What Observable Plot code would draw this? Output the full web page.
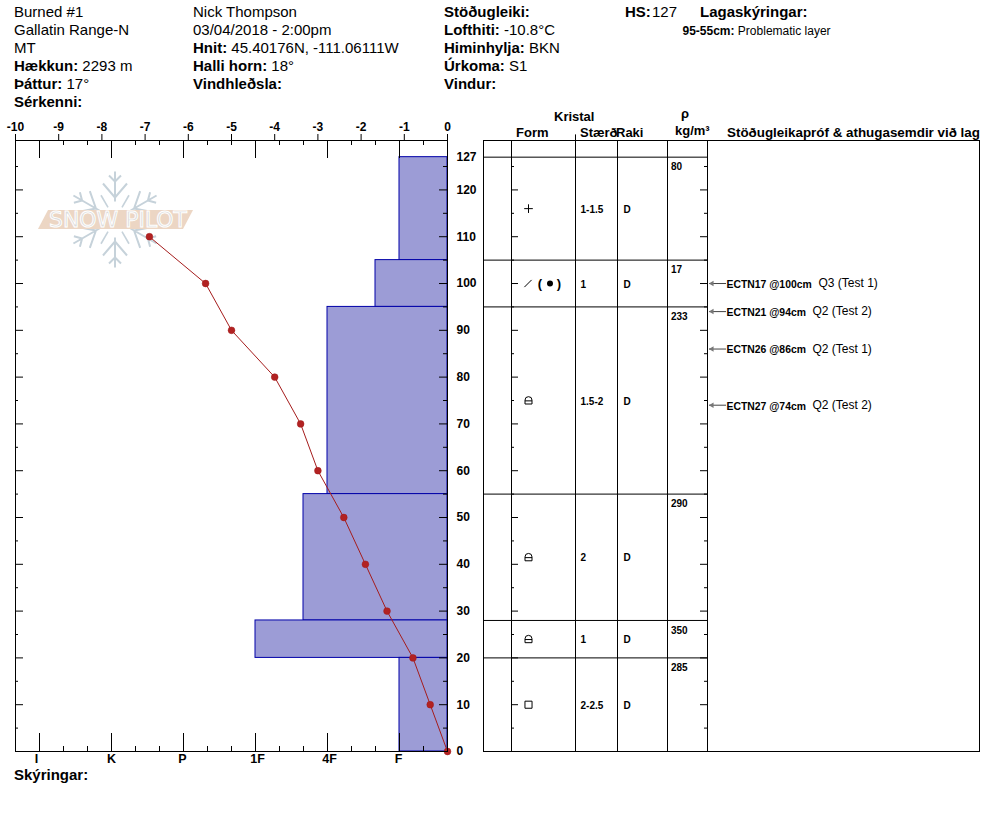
<!DOCTYPE html>
<html>
<head>
<meta charset="utf-8">
<script src="https://cdn.jsdelivr.net/npm/d3@7"></script>
<script src="https://cdn.jsdelivr.net/npm/@observablehq/plot@0.6"></script>
<style>
  html, body { margin: 0; padding: 0; background: #fff; }
  #page { position: relative; width: 994px; height: 840px; overflow: hidden; font-family: "Liberation Sans", Arial, sans-serif; color: #000; }
  #page > svg, #page > .layer { position: absolute; left: 0; top: 0; }
  .t { position: absolute; white-space: nowrap; line-height: 16px; font-size: 15px; }
  .t b { font-weight: bold; }
</style>
</head>
<body>
<div id="page"></div>
<script>
// ---------- chart data ----------
const layerTop    = [127, 105, 95, 55, 28, 20];
const layerBottom = [105, 95, 55, 28, 20, 0];
const layerHand   = ["F", "F+", "4F", "4F+", "1F", "F"];
const layerSize   = ["1-1.5", "1", "1.5-2", "2", "1", "2-2.5"];
const layerMoist  = ["D", "D", "D", "D", "D", "D"];
const layerRho    = [80, 17, 233, 290, 350, 285];

const tempDepth = [0, 10, 20, 30, 40, 50, 60, 70, 80, 90, 100, 110];
const tempValue = [0, -0.4, -0.8, -1.4, -1.9, -2.4, -3.0, -3.4, -4.0, -5.0, -5.6, -6.9];

const testDepth = [100, 94, 86, 74];
const testName  = ["ECTN17 @100cm", "ECTN21 @94cm", "ECTN26 @86cm", "ECTN27 @74cm"];
const testNote  = ["Q3 (Test 1)", "Q2 (Test 2)", "Q2 (Test 1)", "Q2 (Test 2)"];

const handNames = ["F", "4F", "1F", "P", "K", "I"];
const handRank  = {"F": 1, "F+": 4 / 3, "4F": 2, "4F+": 7 / 3, "1F": 3, "P": 4, "K": 5, "I": 6};
const tempTicks = [-10, -9, -8, -7, -6, -5, -4, -3, -2, -1, 0];
const depthLabels = [0, 10, 20, 30, 40, 50, 60, 70, 80, 90, 100, 110, 120, 127];
const depthTop = 130.56;

// header texts: [left, centre y, bold label, value]
const headerTexts = [
  [14, 12, "", "Burned #1"], [14, 30, "", "Gallatin Range-N"], [14, 48, "", "MT"],
  [14, 66, "Hækkun:", "2293 m"], [14, 84, "Þáttur:", "17°"], [14, 102, "Sérkenni:", ""],
  [193, 12, "", "Nick Thompson"], [193, 30, "", "03/04/2018 - 2:00pm"],
  [193, 48, "Hnit:", "45.40176N, -111.06111W"], [193, 66, "Halli horn:", "18°"], [193, 84, "Vindhleðsla:", ""],
  [444, 12, "Stöðugleiki:", ""], [444, 30, "Lofthiti:", "-10.8°C"], [444, 48, "Himinhylja:", "BKN"],
  [444, 66, "Úrkoma:", "S1"], [444, 84, "Vindur:", ""],
  [625, 12, "HS:", ""], [652, 12, "", "127"], [700, 12, "Lagaskýringar:", ""],
  [14, 775, "Skýringar:", ""]
];
// table column heads: [left, centre y, text, font size]
const columnHeads = [
  [554, 117, "Kristal", 13], [516, 133, "Form", 13], [580, 133, "Stærð", 13], [616, 133, "Raki", 13],
  [681, 114, "ρ", 13], [675, 131, "kg/m³", 13], [727, 133, "Stöðugleikapróf & athugasemdir við lag", 13.4]
];

// ---------- layout ----------
const page = document.getElementById("page");
const W = 480, H = 840, mT = 140, mB = 89, mL = 15, mR = 33;
const plotH = H - mT - mB;
const font = '"Liberation Sans", Arial, sans-serif';
const base = {
  width: W, height: H, marginTop: mT, marginBottom: mB, marginLeft: mL, marginRight: mR,
  style: {fontFamily: font, background: "transparent"}
};
const yScale = {domain: [0, depthTop], axis: null};

function addText(left, cy, html, size) {
  const s = document.createElement("div");
  s.className = "t";
  s.style.left = left + "px";
  s.style.top = (cy - 8) + "px";
  if (size) s.style.fontSize = size + "px";
  s.innerHTML = html;
  page.appendChild(s);
}
headerTexts.forEach(([x, y, b, v]) => addText(x, y, (b ? `<b>${b}</b>${v ? "&nbsp;" : ""}` : "") + v));
addText(682.5, 30.5, "<b>95-55cm:</b> Problematic layer", 12);
columnHeads.forEach(([x, y, t, s]) => addText(x, y, `<b>${t}</b>`, s));

// ---------- hardness bars ----------
const bars = layerTop.map((t, i) => ({top: t, bottom: layerBottom[i], rank: handRank[layerHand[i]]}));
const rankEnd = 1 / 3, rankStart = 19 / 3;
const minorTicks = d3.range(1, 20).map(k => k / 3);
const majorTicks = handNames.map((n) => handRank[n]);
const handLabelShift = [-1, 2, 2, -1, 0, -3];

page.appendChild(Plot.plot({
  ...base,
  x: {domain: [rankStart, rankEnd], axis: null},
  y: yScale,
  marks: [
    Plot.rectX(bars, {x1: () => rankEnd, x2: "rank", y1: "bottom", y2: "top", fill: "#9c9cd6", stroke: "#0000a8", strokeWidth: 1}),
    handNames.map((n, i) => Plot.axisX({anchor: "bottom", ticks: [handRank[n]], dx: handLabelShift[i], tickSize: 0, tickPadding: 3, fontSize: 12.5, fontWeight: "bold",
      tickFormat: () => n, label: null})),
    Plot.ruleX(minorTicks, {insetTop: plotH - 5, stroke: "#000"}),
    Plot.ruleX(minorTicks, {insetBottom: plotH - 5, stroke: "#000"}),
    Plot.ruleX(majorTicks, {insetTop: plotH - 18, stroke: "#000"}),
    Plot.ruleX(majorTicks, {insetBottom: plotH - 18, stroke: "#000"})
  ]
}));

// ---------- logo (decorative) ----------
const logo = document.createElement("div");
logo.className = "layer";
const arm = `<path d="M0-18V-48M0-22L-12-36M0-22L12-36M0-38L-6-44M0-38L6-44" fill="none" stroke="#c6d2da" stroke-width="2"/><path d="M0-14V-28" transform="rotate(30)" fill="none" stroke="#c6d2da" stroke-width="1.6"/>`;
logo.innerHTML = `<svg width="994" height="840" style="display:block">
  <g transform="translate(115,219.5)">${[0, 60, 120, 180, 240, 300].map(a => `<g transform="rotate(${a})">${arm}</g>`).join("")}</g>
  <path d="M48 210H193L183 229H38Z" fill="#ecd6c4"/>
  <text x="49" y="227" font-family="DejaVu Sans" font-size="21" textLength="138" lengthAdjust="spacingAndGlyphs" fill="#dcdcdc" stroke="#fff" stroke-width="0.9">SNOW PILOT</text>
</svg>`;
page.appendChild(logo);

// ---------- temperature profile + frame ----------
const temps = tempDepth.map((d, i) => ({depth: d, temp: tempValue[i]}));
const depth5 = d3.range(5, 130, 5);
const depthMinor = depth5.filter(d => d % 10 !== 0);
const depthMajor = depth5.filter(d => d % 10 === 0);
const plotW = W - mL - mR;

page.appendChild(Plot.plot({
  ...base,
  x: {domain: [-10, 0], axis: null},
  y: yScale,
  marks: [
    Plot.line(temps, {x: "temp", y: "depth", stroke: "#a51c1c", strokeWidth: 1}),
    Plot.dot(temps, {x: "temp", y: "depth", r: 3.4, fill: "#b22222", stroke: "#a01818", strokeWidth: 0.5}),
    Plot.ruleY(depthMinor, {insetRight: plotW - 3, stroke: "#000"}),
    Plot.ruleY(depthMajor, {insetRight: plotW - 8, stroke: "#000"}),
    Plot.ruleY(depthMinor, {insetLeft: plotW - 4, stroke: "#000"}),
    Plot.ruleY(depthMajor, {insetLeft: plotW - 8, stroke: "#000"}),
    Plot.frame({stroke: "#000"}),
    Plot.axisX({anchor: "top", ticks: tempTicks, tickSize: 7, tickPadding: 3, fontSize: 12, fontWeight: "bold", tickFormat: d => String(d), label: null}),
    Plot.axisY({anchor: "right", ticks: depthLabels, tickSize: 0, tickPadding: 9, fontSize: 12, fontWeight: "bold", tickFormat: d => String(d), label: null})
  ]
}));

// ---------- layer table ----------
const colEdges = [0, 28, 92, 134, 184, 224];
const tableEnd = 496;
const rows = layerTop.map((t, i) => ({
  top: t, mid: (t + layerBottom[i]) / 2, size: layerSize[i], moist: layerMoist[i], rho: layerRho[i]
}));
const tests = testDepth.map((d, i) => ({depth: d, name: testName[i], note: testNote[i]}));

// custom grain symbols, drawn through Plot's dot mark
const facetedRounded = {draw(c, size) {
  const r = Math.sqrt(size / Math.PI);
  c.moveTo(-r, r); c.lineTo(r, r);
  c.moveTo(-r, r); c.lineTo(-r, -r * 0.1);
  c.arc(0, -r * 0.1, r, Math.PI, 0);
  c.lineTo(r, r);
  c.moveTo(-r, 0.1 * r); c.lineTo(r, 0.1 * r);
}};
const slash = {draw(c, size) {
  const r = Math.sqrt(size / Math.PI);
  c.moveTo(-r, r); c.lineTo(r, -r);
}};
const grainDot = (depth, x, symbol, r) => Plot.dot([depth], {x: () => x, y: d => d, symbol, r, stroke: "#000", strokeWidth: 1, fill: "none"});

const tableOpts = {
  width: 994, height: H, marginTop: mT, marginBottom: mB, marginLeft: 483, marginRight: 15,
  style: {fontFamily: font, background: "transparent"},
  x: {domain: [0, tableEnd], axis: null},
  y: yScale
};
const tx = {fontSize: 10, fontWeight: "bold", textAnchor: "start", fill: "#000"};
page.appendChild(Plot.plot({
  ...tableOpts,
  marks: [
    Plot.frame({stroke: "#000"}),
    Plot.ruleX(colEdges, {stroke: "#000"}),
    Plot.ruleY(layerTop, {x1: 0, x2: 224, stroke: "#000"}),
    Plot.ruleY(depthMinor, {x1: 28, x2: 31, stroke: "#000"}),
    Plot.ruleY(depthMajor, {x1: 28, x2: 35, stroke: "#000"}),
    Plot.ruleY(depthMinor, {x1: 221, x2: 224, stroke: "#000"}),
    Plot.ruleY(depthMajor, {x1: 217, x2: 224, stroke: "#000"}),
    Plot.ruleX([92], {y1: depthTop, y2: depthTop + 1.2, stroke: "#000"}),
    // grain form column
    grainDot(116, 45, "plus", 2.9),
    grainDot(100, 44.5, slash, 3.6),
    Plot.text([100], {x: () => 56.5, y: d => d, text: () => "(", fontSize: 13, fontWeight: "bold", fill: "#000"}),
    Plot.dot([100], {x: () => 66.5, y: d => d, r: 3, fill: "#000"}),
    Plot.text([100], {x: () => 75.5, y: d => d, text: () => ")", fontSize: 13, fontWeight: "bold", fill: "#000"}),
    grainDot(75, 45, facetedRounded, 3.5),
    grainDot(41.5, 45, facetedRounded, 3.5),
    grainDot(24, 45, facetedRounded, 3.5),
    grainDot(10, 45, "square", 4),
    // size, moisture, density
    Plot.text(rows, {x: () => 97, y: "mid", text: "size", dy: 1, ...tx}),
    Plot.text(rows, {x: () => 140, y: "mid", text: "moist", dy: 1, ...tx}),
    Plot.text(rows, {x: () => 187.5, y: "top", text: d => String(d.rho), dy: 10, ...tx}),
    // stability tests
    Plot.ruleY(tests, {y: "depth", x1: 226, x2: 243, stroke: "#444"}),
    Plot.dot(tests, {x: () => 228.5, y: "depth", symbol: "triangle2", rotate: -90, r: 2.6, fill: "#777"}),
    Plot.text(tests, {x: () => 243, y: "depth", text: "name", dy: 1, ...tx, fontSize: 10.4}),
    Plot.text(tests, {x: d => 243 + (d.name.length === 13 ? 92 : 86), y: "depth", text: "note", fontSize: 12, textAnchor: "start", fill: "#000"})
  ]
}));
</script>
</body>
</html>
